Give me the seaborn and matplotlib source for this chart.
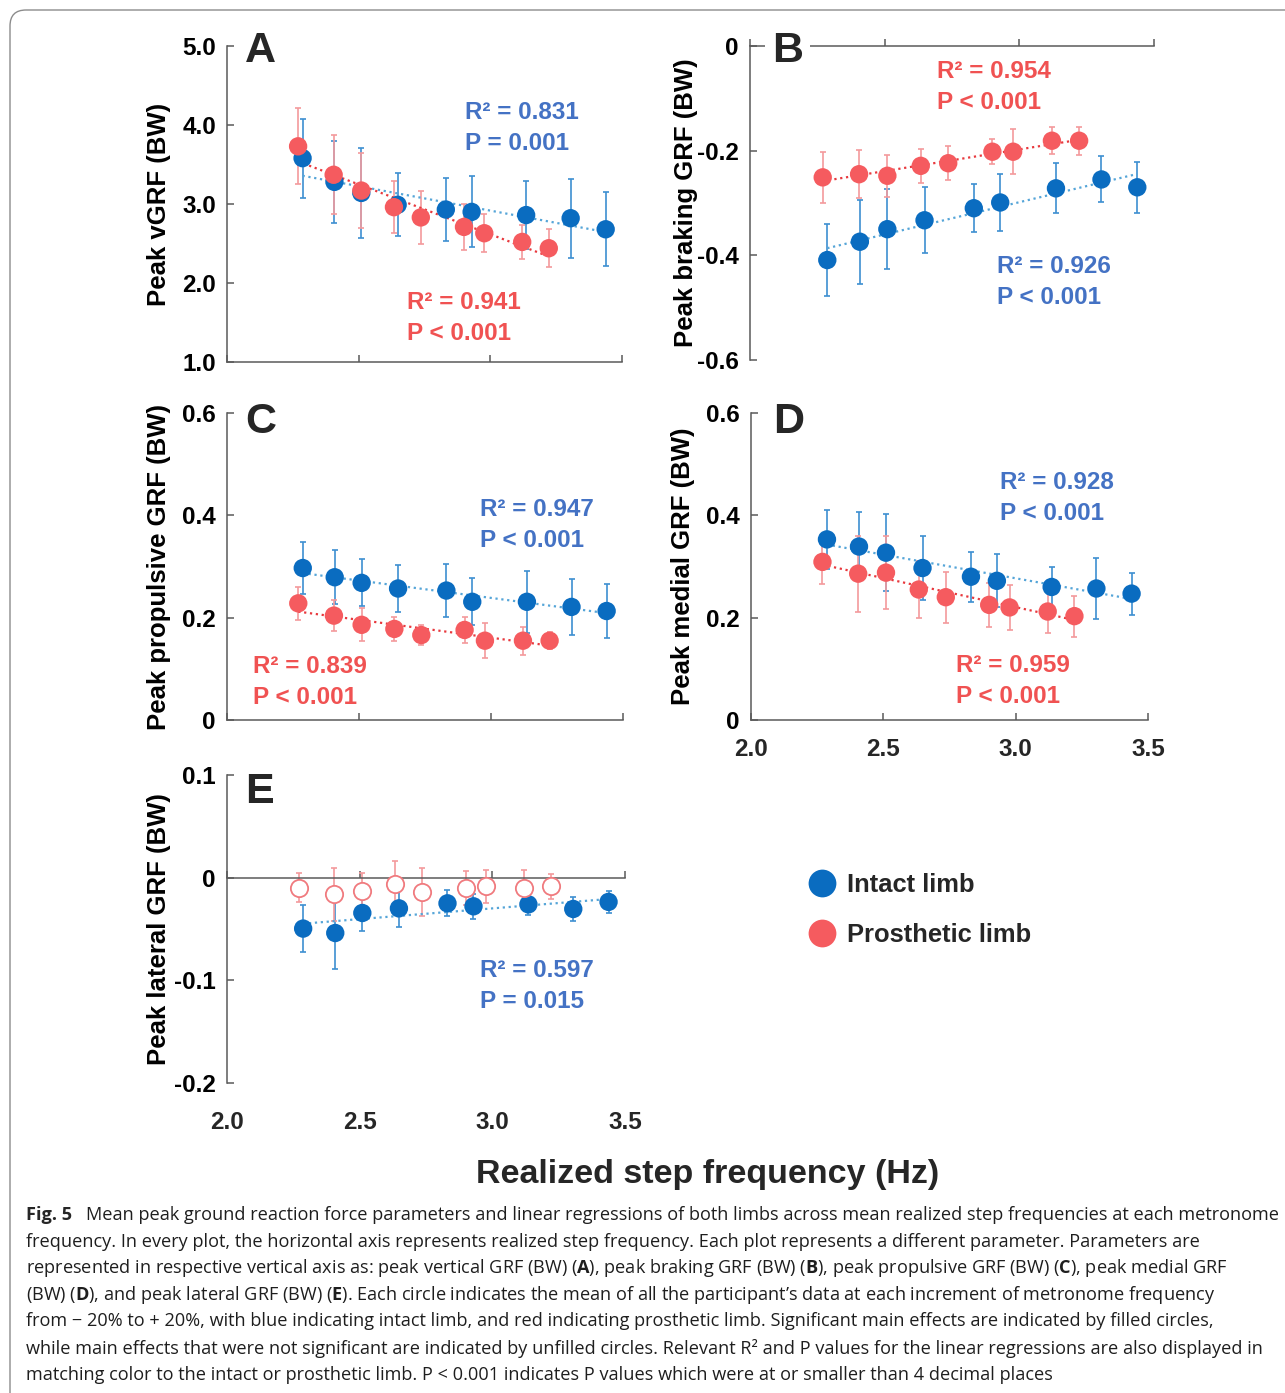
import numpy as np
import matplotlib
matplotlib.use("Agg")
import matplotlib.pyplot as plt
import seaborn as sns
from matplotlib.lines import Line2D
from matplotlib.patches import FancyBboxPatch
from matplotlib.transforms import IdentityTransform

# ---------------- data ----------------
intact_freq = [2.287, 2.408, 2.510, 2.648, 2.831, 2.929, 3.136, 3.305, 3.438]
prosthetic_freq = [2.270, 2.405, 2.510, 2.634, 2.736, 2.900, 2.977, 3.121, 3.222]

vgrf_intact = [3.58, 3.28, 3.14, 2.99, 2.93, 2.90, 2.86, 2.82, 2.68]
vgrf_intact_sd = [0.50, 0.52, 0.57, 0.40, 0.40, 0.45, 0.43, 0.50, 0.47]
vgrf_prosthetic = [3.73, 3.37, 3.17, 2.96, 2.83, 2.71, 2.63, 2.52, 2.44]
vgrf_prosthetic_sd = [0.48, 0.50, 0.48, 0.33, 0.33, 0.29, 0.24, 0.22, 0.24]

braking_intact = [-0.409, -0.374, -0.350, -0.333, -0.310, -0.299, -0.272, -0.255, -0.270]
braking_intact_sd = [0.069, 0.080, 0.077, 0.063, 0.046, 0.054, 0.048, 0.044, 0.049]
braking_prosthetic = [-0.251, -0.245, -0.248, -0.229, -0.224, -0.202, -0.202, -0.181, -0.181]
braking_prosthetic_sd = [0.049, 0.046, 0.040, 0.033, 0.032, 0.024, 0.043, 0.026, 0.027]

propulsive_intact = [0.297, 0.279, 0.268, 0.257, 0.253, 0.231, 0.231, 0.221, 0.213]
propulsive_intact_sd = [0.051, 0.053, 0.046, 0.045, 0.051, 0.046, 0.061, 0.054, 0.053]
propulsive_prosthetic = [0.228, 0.204, 0.186, 0.178, 0.166, 0.176, 0.155, 0.155, 0.155]
propulsive_prosthetic_sd = [0.032, 0.030, 0.032, 0.023, 0.020, 0.026, 0.034, 0.027, 0.017]

medial_intact = [0.353, 0.339, 0.327, 0.297, 0.280, 0.272, 0.260, 0.257, 0.247]
medial_intact_sd = [0.057, 0.067, 0.075, 0.063, 0.049, 0.052, 0.039, 0.060, 0.041]
medial_prosthetic = [0.309, 0.286, 0.288, 0.255, 0.240, 0.225, 0.220, 0.212, 0.203]
medial_prosthetic_sd = [0.043, 0.074, 0.072, 0.055, 0.050, 0.043, 0.044, 0.041, 0.040]

lateral_intact = [-0.0496, -0.0539, -0.0344, -0.0299, -0.0250, -0.0279, -0.0260, -0.0305, -0.0236]
lateral_intact_sd = [0.023, 0.035, 0.018, 0.018, 0.0126, 0.012, 0.010, 0.012, 0.011]
lateral_prosthetic = [-0.0097, -0.0162, -0.0130, -0.0065, -0.0140, -0.0101, -0.0082, -0.0097, -0.0085]
lateral_prosthetic_sd = [0.014, 0.026, 0.018, 0.023, 0.023, 0.017, 0.016, 0.017, 0.012]

x_ticks = [2.0, 2.5, 3.0, 3.5]
x_tick_labels = ["2.0", "2.5", "3.0", "3.5"]

ylabels = ["Peak vGRF (BW)", "Peak braking GRF (BW)", "Peak propulsive GRF (BW)",
           "Peak medial GRF (BW)", "Peak lateral GRF (BW)"]
panel_letters = ["A", "B", "C", "D", "E"]

stats_intact = [("R² = 0.831", "P = 0.001"), ("R² = 0.926", "P < 0.001"),
                ("R² = 0.947", "P < 0.001"), ("R² = 0.928", "P < 0.001"),
                ("R² = 0.597", "P = 0.015")]
stats_prosthetic = [("R² = 0.941", "P < 0.001"), ("R² = 0.954", "P < 0.001"),
                    ("R² = 0.839", "P < 0.001"), ("R² = 0.959", "P < 0.001"), None]

legend_labels = ["Intact limb", "Prosthetic limb"]
xlabel_text = "Realized step frequency (Hz)"

caption_lines = [
    "Mean peak ground reaction force parameters and linear regressions of both limbs across mean realized step frequencies at each metronome",
    "frequency. In every plot, the horizontal axis represents realized step frequency. Each plot represents a different parameter. Parameters are",
    r"represented in respective vertical axis as: peak vertical GRF (BW) ($\mathbf{A}$), peak braking GRF (BW) ($\mathbf{B}$), peak propulsive GRF (BW) ($\mathbf{C}$), peak medial GRF",
    r"(BW) ($\mathbf{D}$), and peak lateral GRF (BW) ($\mathbf{E}$). Each circle indicates the mean of all the participant’s data at each increment of metronome frequency",
    "from − 20% to + 20%, with blue indicating intact limb, and red indicating prosthetic limb. Significant main effects are indicated by filled circles,",
    "while main effects that were not significant are indicated by unfilled circles. Relevant R² and P values for the linear regressions are also displayed in",
    "matching color to the intact or prosthetic limb. P < 0.001 indicates P values which were at or smaller than 4 decimal places",
]

# ---------------- style ----------------
sns.set_style("white")
plt.rcParams["font.family"] = ["Liberation Sans", "DejaVu Sans"]
plt.rcParams["mathtext.fontset"] = "custom"
plt.rcParams["mathtext.rm"] = "Open Sans"
plt.rcParams["mathtext.bf"] = "Open Sans:bold"

BLUE = "#0a6cc0"
RED = "#f55b5f"
BLUE_ERR = "#3d8fd1"
RED_ERR = "#f39a9c"
BLUE_LINE = "#55a5d8"
RED_LINE = "#e8383d"
BLUE_TXT = "#4472c4"
RED_TXT = "#f05252"
SPINE = "#5a5a5a"

W, H = 1285, 1393
fig = plt.figure(figsize=(W / 100, H / 100), dpi=100)
fig.patch.set_facecolor("white")


def fx(px):
    return px / W


def fy(py):
    return 1 - py / H


def add_axes(left, top, right, bottom):
    return fig.add_axes([fx(left), fy(bottom), (right - left) / W, (bottom - top) / H])


axes_px = [
    (227, 46, 622, 362),
    (750, 46, 1154, 360),
    (227, 413, 623, 720),
    (751, 413, 1148, 720),
    (227, 775, 625, 1083),
]
axs = [add_axes(*p) for p in axes_px]

ylims = [(1.0, 5.0), (-0.6, 0.0), (0.0, 0.6), (0.0, 0.6), (-0.2, 0.1)]
yticks = [[1.0, 2.0, 3.0, 4.0, 5.0], [-0.6, -0.4, -0.2, 0.0], [0, 0.2, 0.4, 0.6],
          [0, 0.2, 0.4, 0.6], [-0.2, -0.1, 0.0, 0.1]]
yticklabels = [["1.0", "2.0", "3.0", "4.0", "5.0"], ["-0.6", "-0.4", "-0.2", "0"],
               ["0", "0.2", "0.4", "0.6"], ["0", "0.2", "0.4", "0.6"],
               ["-0.2", "-0.1", "0", "0.1"]]
ylabel_right_px = [171, 698, 171, 695, 171]

series = [
    (vgrf_intact, vgrf_intact_sd, vgrf_prosthetic, vgrf_prosthetic_sd),
    (braking_intact, braking_intact_sd, braking_prosthetic, braking_prosthetic_sd),
    (propulsive_intact, propulsive_intact_sd, propulsive_prosthetic, propulsive_prosthetic_sd),
    (medial_intact, medial_intact_sd, medial_prosthetic, medial_prosthetic_sd),
    (lateral_intact, lateral_intact_sd, lateral_prosthetic, lateral_prosthetic_sd),
]

TICK_FS = 17.5
MS = 175

for i, ax in enumerate(axs):
    yi, yi_sd, yp, yp_sd = series[i]
    significant_p = i != 4
    ax.errorbar(intact_freq, yi, yerr=yi_sd, fmt="none", ecolor=BLUE_ERR,
                elinewidth=1.2, capsize=2.3, capthick=1.2, zorder=2)
    ax.errorbar(prosthetic_freq, yp, yerr=yp_sd, fmt="none", ecolor=RED_ERR,
                elinewidth=1.2, capsize=2.3, capthick=1.2, zorder=2)
    sns.regplot(x=np.array(intact_freq), y=np.array(yi), ax=ax, scatter=False,
                ci=None, truncate=True, color=BLUE_LINE,
                line_kws=dict(ls=":", lw=1.6, zorder=3))
    if significant_p:
        sns.regplot(x=np.array(prosthetic_freq), y=np.array(yp), ax=ax, scatter=False,
                    ci=None, truncate=True, color=RED_LINE,
                    line_kws=dict(ls=":", lw=1.6, zorder=3))
    sns.scatterplot(x=intact_freq, y=yi, ax=ax, color=BLUE, s=MS,
                    edgecolor="none", zorder=4, legend=False)
    if significant_p:
        sns.scatterplot(x=prosthetic_freq, y=yp, ax=ax, color=RED, s=MS,
                        edgecolor="none", zorder=5, legend=False)
    else:
        sns.scatterplot(x=prosthetic_freq, y=yp, ax=ax, color="white", s=MS - 20,
                        edgecolor="#f07a7e", linewidth=1.3, zorder=5, legend=False)

    ax.set_xlim(2.0, 3.5)
    ax.set_ylim(*ylims[i])
    ax.set_yticks(yticks[i])
    ax.set_yticklabels(yticklabels[i], fontweight="bold")
    ax.set_xticks(x_ticks)
    ax.set_xlabel("")
    ax.set_ylabel(ylabels[i], fontsize=18.5, fontweight="bold", color="black")
    left, top, right, bottom = axes_px[i]
    ax.yaxis.set_label_coords((ylabel_right_px[i] - left) / (right - left), 0.5)
    for s in ["right", "top", "bottom", "left"]:
        ax.spines[s].set_color(SPINE)
        ax.spines[s].set_linewidth(1.1)
    ax.spines["right"].set_visible(False)
    ax.spines["top"].set_visible(False)
    ax.tick_params(axis="y", direction="in", length=5, width=1.1, color=SPINE,
                   labelsize=TICK_FS, pad=8, labelcolor="black", left=True)
    ax.tick_params(axis="x", direction="in", length=5, width=1.1, color=SPINE,
                   labelsize=TICK_FS, labelbottom=False, bottom=True)

    if i == 1:
        ax.spines["bottom"].set_visible(False)
        ax.spines["top"].set_visible(True)
        ax.xaxis.tick_top()
        ax.tick_params(axis="x", direction="out", top=True, bottom=False,
                       labeltop=False, length=5, width=1.1, color=SPINE)
    if i == 3:
        ax.set_xticklabels(x_tick_labels, fontweight="bold")
        ax.tick_params(axis="x", labelbottom=True, pad=13)
    if i == 4:
        ax.spines["bottom"].set_position(("data", 0.0))
        sec = ax.secondary_xaxis("bottom")
        sec.spines["bottom"].set_visible(False)
        sec.set_xticks(x_ticks)
        sec.set_xticklabels(x_tick_labels, fontweight="bold")
        sec.tick_params(axis="x", length=0, labelsize=TICK_FS, pad=20)

# ---------------- panel letters ----------------
letter_pos = [(245, 62), (772, 62), (245, 433), (773, 433), (245, 803)]
for i, (lx, ly) in enumerate(letter_pos):
    kw = {}
    if i == 1:
        kw["bbox"] = dict(facecolor="white", edgecolor="none", pad=5)
    fig.text(fx(lx), fy(ly), panel_letters[i], fontsize=31, fontweight="bold",
             ha="left", va="baseline", **kw)

# ---------------- statistics annotations ----------------
intact_txt_pos = [(465, 119), (997, 273), (480, 516), (1000, 489), (480, 977)]
prosth_txt_pos = [(407, 309), (937, 78), (253, 673), (956, 672), None]
for i in range(5):
    x0, y0 = intact_txt_pos[i]
    fig.text(fx(x0), fy(y0), stats_intact[i][0], color=BLUE_TXT, fontsize=17.5,
             fontweight="bold", va="baseline")
    fig.text(fx(x0), fy(y0 + 31), stats_intact[i][1], color=BLUE_TXT, fontsize=17.5,
             fontweight="bold", va="baseline")
    if stats_prosthetic[i] is not None:
        x0, y0 = prosth_txt_pos[i]
        fig.text(fx(x0), fy(y0), stats_prosthetic[i][0], color=RED_TXT, fontsize=17.5,
                 fontweight="bold", va="baseline")
        fig.text(fx(x0), fy(y0 + 31), stats_prosthetic[i][1], color=RED_TXT, fontsize=17.5,
                 fontweight="bold", va="baseline")

# ---------------- legend ----------------
handles = [
    Line2D([], [], marker="o", ls="", markersize=20, markerfacecolor=BLUE, markeredgecolor="none"),
    Line2D([], [], marker="o", ls="", markersize=20, markerfacecolor=RED, markeredgecolor="none"),
]
fig.legend(handles, legend_labels, loc="center left", bbox_to_anchor=(fx(809), fy(910)),
           frameon=False, prop=dict(weight="bold", size=18.4), handlelength=1.0,
           handletextpad=0.5, labelspacing=1.05, borderpad=0.0, borderaxespad=0.0)

# ---------------- shared x label ----------------
fig.text(fx(708), fy(1174), xlabel_text, fontsize=24.5, fontweight="bold",
         ha="center", va="center")

# ---------------- caption ----------------
cap_fs = 13.1
fig.text(fx(26), fy(1215), "Fig. 5", fontsize=cap_fs, fontweight="bold",
         family=["Open Sans", "DejaVu Sans"], va="center", ha="left")
for k, line in enumerate(caption_lines):
    x0 = 86 if k == 0 else 26
    fig.text(fx(x0), fy(1215 + 26.6 * k), line, fontsize=cap_fs,
             family=["Open Sans", "DejaVu Sans"], va="center", ha="left", color="#1e1e1e")

# ---------------- rounded border ----------------
border = FancyBboxPatch((10, -30), 1320, 1393 - 10 + 30,
                        boxstyle="round,pad=0,rounding_size=16",
                        transform=IdentityTransform(), facecolor="none",
                        edgecolor="#8c8c8c", linewidth=1.0)
fig.patches.append(border)

fig.savefig("out.png", dpi=100)
